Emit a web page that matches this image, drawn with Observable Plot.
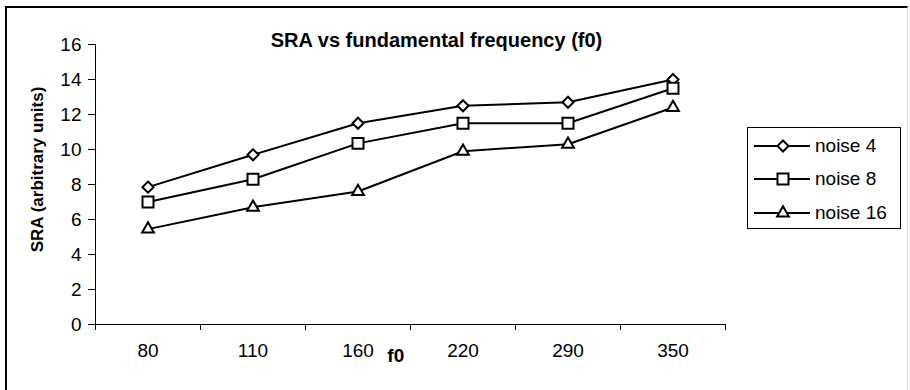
<!DOCTYPE html>
<html><head><meta charset="utf-8">
<script src="https://cdn.jsdelivr.net/npm/d3@7"></script>
<script src="https://cdn.jsdelivr.net/npm/@observablehq/plot@0.6"></script>
<style>
html,body{margin:0;padding:0;background:#fff;}
#wrap{position:relative;width:910px;height:390px;overflow:hidden;font-family:"Liberation Sans",Arial,Helvetica,sans-serif;}
#frame{position:absolute;left:5px;top:6px;width:903px;height:400px;border-top:2px solid #000;border-left:2px solid #000;border-right:1px solid #ddd;box-sizing:border-box;}
#chart{position:absolute;left:0;top:0;}
#legend{position:absolute;left:747px;top:127px;width:154px;height:102px;border:1px solid #000;box-sizing:border-box;background:#fff;}
.lrow{position:absolute;left:0;height:30px;display:flex;align-items:center;font-size:19px;color:#000;}
.lrow svg{display:block;}
.lrow span{margin-left:4px;white-space:nowrap;}
</style>
</head><body>
<div id="wrap"><div id="frame"></div><div id="chart"></div><div id="legend"></div></div>
<script>
// ---- data ----
const f0 = ["80", "110", "160", "220", "290", "350"];
const noise4 = [7.85, 9.7, 11.5, 12.5, 12.7, 14.0];
const noise8 = [7.0, 8.3, 10.35, 11.5, 11.5, 13.5];
const noise16 = [5.45, 6.7, 7.6, 9.9, 10.3, 12.4];
const seriesNames = ["noise 4", "noise 8", "noise 16"];
const seriesSymbols = ["diamond2", "square2", "triangle2"];
const yTicks = [0, 2, 4, 6, 8, 10, 12, 14, 16];
const titleText = "SRA vs fundamental frequency (f0)";
const xLabel = "f0";
const yLabel = "SRA (arbitrary units)";

// ---- build ----
const FONT = '"Liberation Sans", Arial, Helvetica, sans-serif';
const seriesValues = [noise4, noise8, noise16];
const symbolR = {"diamond2": 5, "square2": 7, "triangle2": 5.6};
const rows = [];
seriesValues.forEach((vals, s) => vals.forEach((v, i) => rows.push({series: seriesNames[s], i, f0: f0[i], v})));
const bounds = d3.range(f0.length + 1).map(i => i - 0.5);

const dotMarks = seriesNames.map((name, s) =>
  Plot.dot(rows.filter(d => d.series === name), {
    x: "i", y: "v", symbol: () => seriesSymbols[s], r: symbolR[seriesSymbols[s]],
    fill: "#fff", stroke: "#000", strokeWidth: 2
  })
);

const chart = Plot.plot({
  width: 910, height: 390,
  marginLeft: 95, marginRight: 185, marginTop: 44, marginBottom: 66,
  style: {fontFamily: FONT, fontSize: "19px", background: "transparent", color: "#000", overflow: "visible"},
  x: {type: "linear", domain: [-0.5, f0.length - 0.5], ticks: bounds, tickFormat: () => "", tickSize: 6, line: true, label: null},
  y: {domain: [0, 16], ticks: yTicks, tickSize: 7, tickPadding: 7, line: true, label: null},
  symbol: {type: "identity"},
  marks: [
    Plot.line(rows, {x: "i", y: "v", z: "series", stroke: "#000", strokeWidth: 2}),
    ...dotMarks,
    Plot.text(f0, {x: (d, i) => i, frameAnchor: "bottom", dy: 32, text: d => d, fontSize: 19}),
    Plot.text([xLabel], {x: () => 2.36, frameAnchor: "bottom", dy: 37, text: d => d, fontSize: 19, fontWeight: "bold"}),
    Plot.text([titleText], {frameAnchor: "top", dx: 26, dy: -12, text: d => d, fontSize: 20, fontWeight: "bold"}),
    Plot.text([yLabel], {frameAnchor: "left", textAnchor: "middle", dx: -58, dy: -15, rotate: -90, text: d => d, fontSize: 17, fontWeight: "bold"})
  ]
});
document.getElementById("chart").appendChild(chart);

// ---- legend ----
const legend = d3.select("#legend");
const symMap = {"diamond2": d3.symbolDiamond2, "square2": d3.symbolSquare2, "triangle2": d3.symbolTriangle2};
const rowTops = [3, 36, 70];
seriesNames.forEach((name, s) => {
  const row = legend.append("div").attr("class", "lrow").style("top", rowTops[s] + "px");
  const svg = row.append("svg").attr("width", 63).attr("height", 30);
  svg.append("line").attr("x1", 6).attr("x2", 62).attr("y1", 15).attr("y2", 15).attr("stroke", "#000").attr("stroke-width", 2);
  const rr = symbolR[seriesSymbols[s]];
  svg.append("path").attr("transform", "translate(35,15)")
    .attr("d", d3.symbol(symMap[seriesSymbols[s]], Math.PI * rr * rr)())
    .attr("fill", "#fff").attr("stroke", "#000").attr("stroke-width", 2);
  row.append("span").text(name);
});
</script>
</body></html>
